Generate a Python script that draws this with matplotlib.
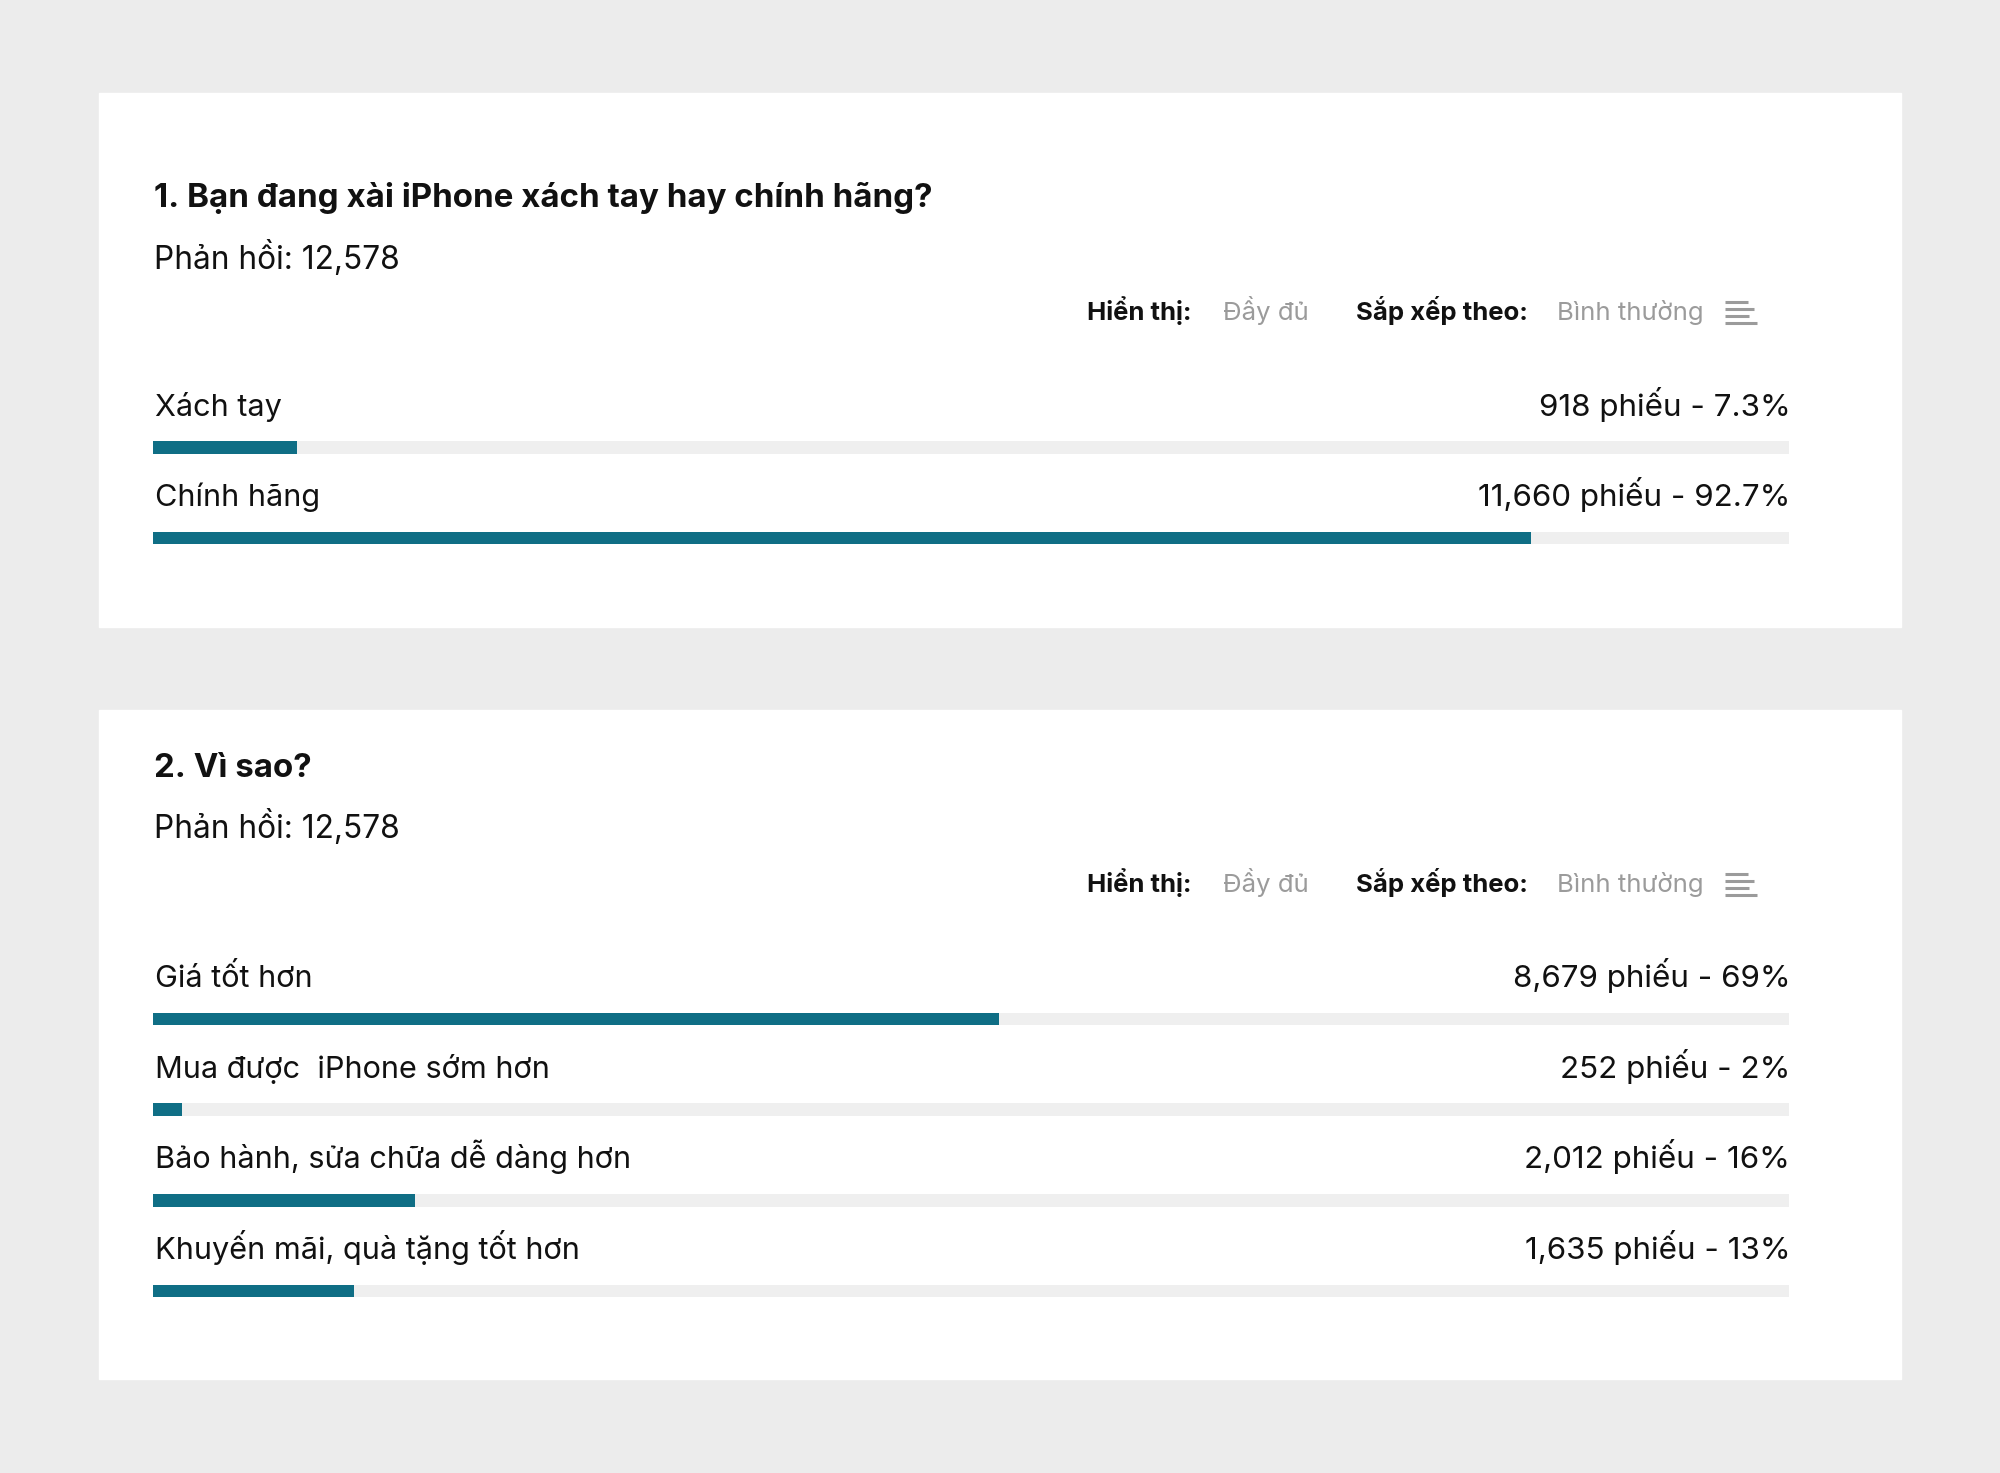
import matplotlib.pyplot as plt

# ---- data ----
q1_title = "1. Bạn đang xài iPhone xách tay hay chính hãng?"
q1_labels = ["Xách tay", "Chính hãng"]
q1_votes = ["918", "11,660"]
q1_pct = ["7.3%", "92.7%"]
q1_fill = [0.088, 0.842]          # bar length as drawn in the picture

q2_title = "2. Vì sao?"
q2_labels = ["Giá tốt hơn", "Mua được  iPhone sớm hơn",
             "Bảo hành, sửa chữa dễ dàng hơn", "Khuyến mãi, quà tặng tốt hơn"]
q2_votes = ["8,679", "252", "2,012", "1,635"]
q2_pct = ["69%", "2%", "16%", "13%"]
q2_fill = [0.517, 0.018, 0.160, 0.123]

responses = "12,578"

W, H = 2000, 1473
BG = "#ececec"
TEAL = "#0f6e85"
TRACK = "#efefef"
INK = "#111111"
GREY = "#9b9b9b"

plt.rcParams["font.family"] = ["Inter", "DejaVu Sans"]

fig = plt.figure(figsize=(W / 100, H / 100), dpi=100, facecolor=BG)
base = fig.add_axes([0, 0, 1, 1])
base.set_xlim(0, W)
base.set_ylim(H, 0)
base.axis("off")


def card(top, bottom, title, title_y, resp_y, row_y, labels, votes, pct, fill, bar0, pitch):
    base.add_patch(plt.Rectangle((99, top), 1802, bottom - top, color="white", zorder=0))
    base.text(154, title_y, title, fontsize=23.8, fontweight="bold", color=INK, va="baseline")
    base.text(154, resp_y, f"Phản hồi: {responses}", fontsize=22.8, color=INK, va="baseline")

    base.text(1087, row_y, "Hiển thị:", fontsize=18.5, fontweight="bold", color=INK, va="baseline")
    base.text(1223, row_y, "Đầy đủ", fontsize=18.5, color=GREY, va="baseline")
    base.text(1356, row_y, "Sắp xếp theo:", fontsize=18.5, fontweight="bold", color=INK, va="baseline")
    base.text(1557, row_y, "Bình thường", fontsize=18.5, color=GREY, va="baseline")
    # sort icon
    for dy, ln in zip([-18, -11, -4, 3], [23, 29, 24, 32]):
        base.plot([1725, 1725 + ln], [row_y + dy, row_y + dy], color=GREY, lw=2.2,
                  solid_capstyle="butt")

    # bar rows in their own axes: x = share of the track, y = row index
    n = len(labels)
    top_px = bar0 - pitch
    ax = fig.add_axes([153 / W, 1 - (top_px + (n + 0.5) * pitch) / H,
                       1636 / W, (n + 0.5) * pitch / H])
    ax.set_xlim(0, 1)
    ax.set_ylim(n - 0.5, -1.0)
    ax.axis("off")
    rows = list(range(n))
    bh = 12.5 / pitch
    ax.barh(rows, [1] * n, height=bh, color=TRACK, zorder=1)
    ax.barh(rows, fill, height=bh, color=TEAL, zorder=2)
    off = 32 / pitch
    for i in rows:
        ax.text(0.001, i - off, labels[i], fontsize=22.1, color=INK, va="baseline")
        ax.text(1.0008, i - off, f"{votes[i]} phiếu - {pct[i]}", fontsize=22.6,
                color=INK, va="baseline", ha="right")


card(93, 627, q1_title, 207, 269, 320, q1_labels, q1_votes, q1_pct, q1_fill, 447.5, 90.5)
card(710, 1379, q2_title, 777, 838, 892, q2_labels, q2_votes, q2_pct, q2_fill, 1019, 90.7)

fig.savefig("out.png", dpi=100, facecolor=BG)
